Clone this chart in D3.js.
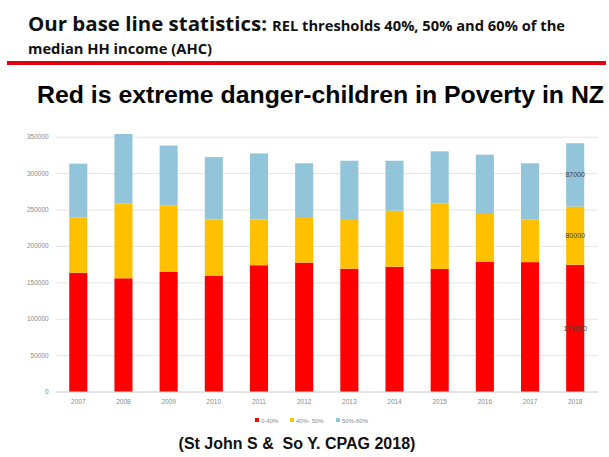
<!DOCTYPE html>
<html>
<head>
<meta charset="utf-8">
<script src="https://cdn.jsdelivr.net/npm/d3@7"></script>
<style>
  html, body { margin: 0; padding: 0; background: #fff; }
  svg { display: block; }
</style>
</head>
<body>
<svg id="chart" width="609" height="457"></svg>
<script>
// Children below each income threshold, by year
const years = ["2007","2008","2009","2010","2011","2012","2013","2014","2015","2016","2017","2018"];
const band0to40 = [163000,155500,164600,159000,173500,177000,168700,171400,168300,177900,177700,174000];
const band40to50 = [76000,102500,91000,77300,62800,62700,68300,77000,90200,65900,58300,80000];
const band50to60 = [74000,95700,82300,85700,90700,73800,80000,68600,71400,81500,77500,87000];
const seriesNames = ["0-40%", "40%- 50%", "50%-60%"];
const seriesColors = ["#ff0000", "#ffc000", "#92c5da"];
const yTicks = [0,50000,100000,150000,200000,250000,300000,350000];
const labelledYear = "2018";

const svg = d3.select("#chart");
const headFont = "'Open Sans', 'Liberation Sans', sans-serif";

// Slide headings
function heading(txt, x, y, size, len) {
  svg.append("text").attr("x", x).attr("y", y)
    .attr("font-family", headFont).attr("font-weight", "bold")
    .attr("font-size", size).attr("fill", "#111")
    .attr("textLength", len).attr("lengthAdjust", "spacingAndGlyphs")
    .text(txt);
}
heading("Our base line statistics:", 28, 31, 20, 239);
heading("REL thresholds 40%, 50% and 60% of the", 272, 31, 13.5, 293);
heading("median HH income (AHC)", 28, 54, 13.5, 184);

svg.append("rect").attr("x", 7).attr("y", 61).attr("width", 599).attr("height", 4)
  .attr("fill", "#e3000f");

svg.append("text").attr("x", 37).attr("y", 103)
  .attr("font-family", "'Liberation Sans', Arial, sans-serif")
  .attr("font-weight", "bold").attr("font-size", 23).attr("fill", "#000")
  .attr("textLength", 567).attr("lengthAdjust", "spacingAndGlyphs")
  .text("Red is extreme danger-children in Poverty in NZ");

// Chart area
const x = d3.scaleBand().domain(years).range([55.7, 597.8]).paddingInner(0.6).paddingOuter(0.3);
const y = d3.scaleLinear().domain([0, 350000]).range([391.5, 136.7]);

const yAxis = d3.axisLeft(y).tickValues(yTicks).tickSize(-(597.8 - 55.7)).tickFormat(d3.format("d"));
const gy = svg.append("g").attr("transform", "translate(55.7,0)").call(yAxis);
gy.select(".domain").remove();
gy.selectAll(".tick line").attr("stroke", "#e4e4e4").attr("stroke-width", 1);
gy.selectAll(".tick text").attr("x", -7).attr("fill", "#8a8a8a")
  .attr("font-family", "'Liberation Sans', Arial, sans-serif").attr("font-size", 6.5);

const xAxis = d3.axisBottom(x).tickSize(0).tickPadding(8);
const gx = svg.append("g").attr("transform", "translate(0,391.5)").call(xAxis);
gx.select(".domain").attr("stroke", "#d6d6d6");
gx.selectAll(".tick text").attr("fill", "#8a8a8a")
  .attr("font-family", "'Liberation Sans', Arial, sans-serif").attr("font-size", 6.5);

// Stacked bars
const rows = years.map((yr, i) => ({ year: yr, a: band0to40[i], b: band40to50[i], c: band50to60[i] }));
const stack = d3.stack().keys(["a", "b", "c"])(rows);

const layers = svg.append("g").selectAll("g").data(stack).join("g")
  .attr("fill", (d, i) => seriesColors[i]);
layers.selectAll("rect").data(d => d).join("rect")
  .attr("x", d => x(d.data.year))
  .attr("width", x.bandwidth())
  .attr("y", d => y(d[1]))
  .attr("height", d => y(d[0]) - y(d[1]));

// Value labels on the latest year
stack.forEach(layer => {
  const seg = layer.find(d => d.data.year === labelledYear);
  svg.append("text")
    .attr("x", x(labelledYear) + x.bandwidth() / 2)
    .attr("y", y((seg[0] + seg[1]) / 2) + 2.5)
    .attr("text-anchor", "middle")
    .attr("font-family", "'Liberation Sans', Arial, sans-serif")
    .attr("font-size", 7).attr("fill", "#404040")
    .text(seg[1] - seg[0]);
});

// Legend
const legendX = [255, 290, 336];
const lg = svg.append("g").attr("transform", "translate(0,421)");
seriesNames.forEach((name, i) => {
  lg.append("rect").attr("x", legendX[i]).attr("y", -3).attr("width", 4).attr("height", 4)
    .attr("fill", seriesColors[i]);
  lg.append("text").attr("x", legendX[i] + 6).attr("y", 1.5)
    .attr("font-family", "'Liberation Sans', Arial, sans-serif")
    .attr("font-size", 6).attr("fill", "#8a8a8a").text(name);
});

// Source
svg.append("text").attr("x", 297).attr("y", 449).attr("text-anchor", "middle")
  .attr("font-family", "'Liberation Sans', Arial, sans-serif")
  .attr("font-weight", "bold").attr("font-size", 16).attr("fill", "#111")
  .attr("xml:space", "preserve")
  .text("(St John S &  So Y. CPAG 2018)");
</script>
</body>
</html>
